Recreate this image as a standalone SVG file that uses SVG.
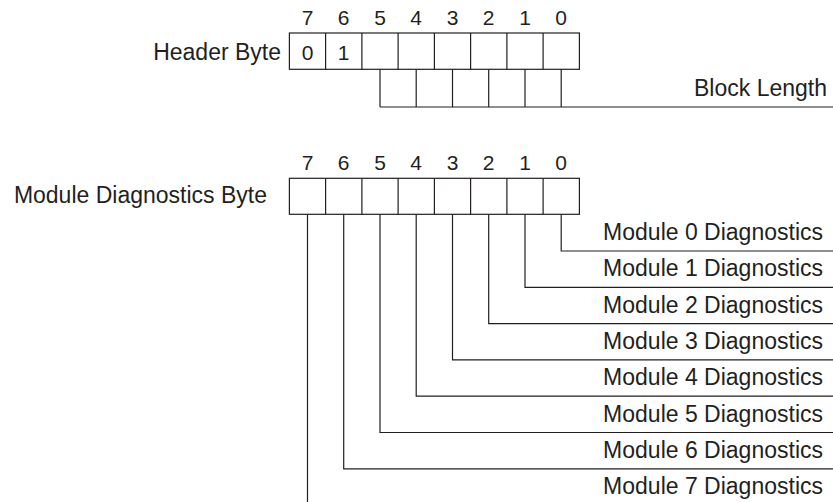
<svg xmlns="http://www.w3.org/2000/svg" width="833" height="502" viewBox="0 0 833 502">
<style>
text{font-family:"Liberation Sans",Arial,sans-serif;font-size:23px;fill:#231f20}
.d{font-size:21px;text-anchor:middle}
.r{text-anchor:end}
.c{fill:#fff;stroke:#231f20;stroke-width:1.2}
.w{fill:none;stroke:#231f20;stroke-width:1.2}
</style>
<rect width="833" height="502" fill="#fff"/>
<g id="header-byte">
<text class="r" x="281" y="60">Header Byte</text>
<text class="d" x="307.5" y="25">7</text><text class="d" x="343.7" y="25">6</text><text class="d" x="380" y="25">5</text><text class="d" x="416.2" y="25">4</text><text class="d" x="452.5" y="25">3</text><text class="d" x="488.7" y="25">2</text><text class="d" x="525" y="25">1</text><text class="d" x="561.2" y="25">0</text>
<rect class="c" x="289.4" y="33" width="290" height="36.3"/>
<path class="w" d="M325.6 33V69.3M361.9 33V69.3M398.1 33V69.3M434.4 33V69.3M470.6 33V69.3M506.9 33V69.3M543.1 33V69.3"/>
<text class="d" x="307.5" y="60">0</text><text class="d" x="343.7" y="60">1</text>
</g>
<g id="block-length">
<text class="r" x="827" y="96">Block Length</text>
</g>
<g id="module-byte">
<text class="r" x="267" y="203">Module Diagnostics Byte</text>
<text class="d" x="307.5" y="170">7</text><text class="d" x="343.7" y="170">6</text><text class="d" x="380" y="170">5</text><text class="d" x="416.2" y="170">4</text><text class="d" x="452.5" y="170">3</text><text class="d" x="488.7" y="170">2</text><text class="d" x="525" y="170">1</text><text class="d" x="561.2" y="170">0</text>
<rect class="c" x="289.4" y="178.3" width="290" height="36"/>
<path class="w" d="M325.6 178.3V214.3M361.9 178.3V214.3M398.1 178.3V214.3M434.4 178.3V214.3M470.6 178.3V214.3M506.9 178.3V214.3M543.1 178.3V214.3"/>
</g>
<g id="module-labels">
<text class="r" x="823" y="240">Module 0 Diagnostics</text>
<text class="r" x="823" y="276.3">Module 1 Diagnostics</text>
<text class="r" x="823" y="312.6">Module 2 Diagnostics</text>
<text class="r" x="823" y="348.9">Module 3 Diagnostics</text>
<text class="r" x="823" y="385.2">Module 4 Diagnostics</text>
<text class="r" x="823" y="421.5">Module 5 Diagnostics</text>
<text class="r" x="823" y="457.8">Module 6 Diagnostics</text>
<text class="r" x="823" y="494">Module 7 Diagnostics</text>
</g>
<g id="connectors">
<path class="w" d="M380 69.3V107M416.2 69.3V107M452.5 69.3V107M488.7 69.3V107M525 69.3V107M561.2 69.3V107M380 107H833"/>
<path class="w" d="M561.2 214.3V251H833M525 214.3V287.3H833M488.7 214.3V323.6H833M452.5 214.3V359.9H833M416.2 214.3V396.2H833M380 214.3V432.5H833M343.7 214.3V468.8H833M307.5 214.3V502"/>
</g>
</svg>
